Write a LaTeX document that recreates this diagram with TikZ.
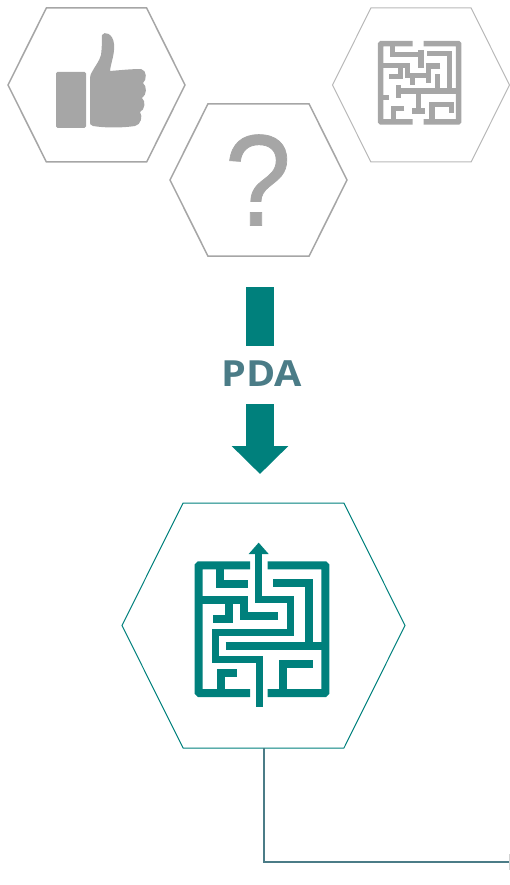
\documentclass[tikz,border=0pt]{standalone}
\usepackage{fontspec}
\setmainfont{Open Sans}
\newfontfamily\questionfont[FakeBold=0.6]{Liberation Sans}
\usetikzlibrary{shapes.symbols, arrows.meta, positioning}

\definecolor{tealmain}{RGB}{0,128,124}
\definecolor{greymain}{RGB}{166,166,166}
\definecolor{slatemain}{RGB}{75,124,135}

\begin{document}
\begin{tikzpicture}[
    x=1pt, y=-1pt,
    hexagon/.style={signal, signal to=east and west, signal pointer angle=127, draw=#1, inner sep=0pt, outer sep=0pt},
    flow/.style={line width=27.5pt, draw=tealmain, -{Triangle[length=28pt,width=55pt]}},
    wall/.style={line width=#1, line cap=butt, line join=miter},
    link/.style={draw=slatemain, line width=2.8pt}
]
\useasboundingbox (0,0) rectangle (510,885);

% Hexagons
\node (like) at (96.5,85) [hexagon=greymain, line width=1.5pt, minimum width=177pt, minimum height=154pt] {};
\node (doubt) at (258.5,180) [hexagon=greymain, line width=1.5pt, minimum width=177pt, minimum height=152pt] {};
\node (maze) at (421,85) [hexagon=greymain!80, line width=1pt, minimum width=177pt, minimum height=154pt] {};
\node (solution) at (263.5,625.5) [hexagon=tealmain, line width=1pt, minimum width=283pt, minimum height=245pt] {};

% Question mark
\node (question) at (258,180) [xscale=.92, transform shape, font=\questionfont\fontsize{130}{130}\selectfont, text=greymain] {?};

% Thumb
\fill[greymain, rounded corners=1.5pt] (56,72) rectangle (86,128);
\fill[greymain] (92,72) .. controls (95,66) and (99,62) .. (101,55)
  .. controls (102,47) and (102,40) .. (102,35)
  .. controls (104,31) and (113,33) .. (114,44)
  .. controls (115,54) and (111,62) .. (110,71)
  .. controls (122,70) and (132,69) .. (141,69)
  .. controls (147,70) and (147,80) .. (143,83)
  .. controls (147,86) and (147,95) .. (142,98)
  .. controls (146,101) and (145,110) .. (140,112)
  .. controls (143,116) and (141,125) .. (135,126)
  .. controls (122,128) and (105,128) .. (93,126)
  .. controls (90,125) and (90,124) .. (90,122)
  -- (90,78) .. controls (90,75) and (91,74) .. (92,72) -- cycle;

% Grey maze
\begin{scope}[xshift=372pt, yshift=-36pt, x=1pt/3, y=-1pt/3, draw=greymain]
\draw[wall=5.5pt, rounded corners=.6pt] (122,23) -- (26,23) -- (26,258) -- (122,258);
\draw[wall=5.5pt, rounded corners=.6pt] (155,23) -- (260,23) -- (260,258) -- (155,258);
\draw[wall=5.5pt] (62,30) -- (62,56) -- (147,56);
\draw[wall=5.5pt] (147,42) -- (147,95);
\draw[wall=5.5pt] (30,88) -- (107,88) -- (107,118) -- (170,118);
\draw[wall=5.5pt] (85,88) -- (85,122) -- (52,122);
\draw[wall=5.5pt] (122,118) -- (122,147);
\draw[wall=5.5pt] (205,90) -- (170,90) -- (170,142);
\draw[wall=5.5pt] (165,52) -- (232,52) -- (232,165);
\draw[wall=5.5pt] (197,115) -- (197,165);
\draw[wall=5.5pt] (80,148) -- (80,185);
\draw[wall=5.5pt] (80,165) -- (255,165);
\draw[wall=5.5pt] (30,185) -- (50,185);
\draw[wall=5.5pt] (140,165) -- (140,225);
\draw[wall=5.5pt] (120,225) -- (158,225);
\draw[wall=5.5pt] (97,218) -- (65,218) -- (65,252);
\draw[wall=5.5pt] (180,252) -- (180,205) -- (238,205) -- (238,232);
\end{scope}

% Block arrow with its label
\node (pda) at (261.5,373.5) [xscale=1.1, transform shape, font=\fontsize{36}{36}\selectfont\bfseries, text=slatemain, inner sep=0pt] {PDA};
\coordinate (flowtop) at (260,287);
\coordinate (flowstop) at (260,346);
\coordinate (arrowtop) at (260,404);
\coordinate (arrowtip) at (260,474);
\draw[line width=27.5pt, draw=tealmain] (flowtop) -- (flowstop);
\draw[flow] (arrowtop) -- (arrowtip);

% Teal maze
\begin{scope}[xshift=180pt, yshift=-530pt, x=1pt/3, y=-1pt/3, draw=tealmain, fill=tealmain]
\draw[wall=8pt, rounded corners=.8pt] (210,106) -- (56,106) -- (56,489) -- (210,489);
\draw[wall=8pt, rounded corners=.8pt] (263,106) -- (436,106) -- (436,489) -- (263,489);
\draw[wall=8pt] (121,110) -- (121,162) -- (205,162);
\draw[wall=8pt] (60,209) -- (191,209) -- (191,258) -- (295,258);
\draw[wall=8pt] (147,209) -- (147,268) -- (98,268);
\draw[wall=8pt] (280,160) -- (386,160) -- (386,347);
\draw[wall=8pt] (137,347) -- (430,347);
\draw[wall=8pt] (398,402) -- (308,402) -- (308,485);
\draw[wall=8pt] (170,430) -- (122,430) -- (122,485);
\draw[wall=7pt] (236,60) -- (236,209) -- (332,209) -- (332,308) -- (105,308) -- (105,388) -- (237,388) -- (237,530);
\fill (236,38) -- (266,72) -- (206,72) -- cycle;
\end{scope}

% Connector
\coordinate (linkend) at (510,862);
\draw[link] (solution.south -| 264,0) -- (264,862) -- (linkend);
\draw[draw=greymain!50, line width=1pt] (509.5,854) -- (509.5,870);

\end{tikzpicture}
\end{document}
